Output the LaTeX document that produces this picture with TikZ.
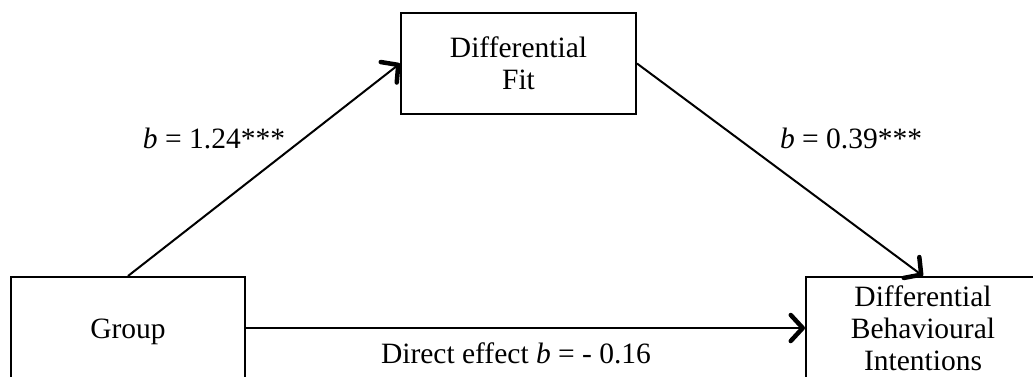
\documentclass[tikz,border=0pt]{standalone}
\usepackage{fontspec}
\setmainfont{Liberation Serif}
\usetikzlibrary{arrows.meta}
\begin{document}
\begin{tikzpicture}[x=1pt,y=-1pt,
  box/.style={draw,line width=2pt,minimum width=234pt,align=center,inner sep=0pt,
    font=\fontsize{29.5}{32}\selectfont},
  lbl/.style={font=\fontsize{29.5}{32}\selectfont,inner sep=0pt},
  conn/.style={line width=2pt,-{Straight Barb[length=12pt,width=26pt,line width=4.5pt,round]}}]
\useasboundingbox (0,0) rectangle (1033,377);
\node[box,minimum height=110pt] (group) at (128,332) {Group};
\node[box,minimum height=102pt] (behav) at (923,328) {Differential\\Behavioural\\Intentions};
\node[box,minimum width=235pt,minimum height=101pt] (fit) at (518.5,63.5) {Differential\\Fit};
\draw[conn] (group.north) -- (fit.west);
\draw[conn] (fit.east) -- (behav.north);
\draw[conn] ([yshift=4pt]group.east) -- (behav.west);
\node[lbl,anchor=base] (l1) at (214,148) {\textit{b} = 1.24***};
\node[lbl,anchor=base] (l2) at (851,148) {\textit{b} = 0.39***};
\node[lbl,anchor=base] (l3) at (516,363) {Direct effect \textit{b} = - 0.16};
\end{tikzpicture}
\end{document}
